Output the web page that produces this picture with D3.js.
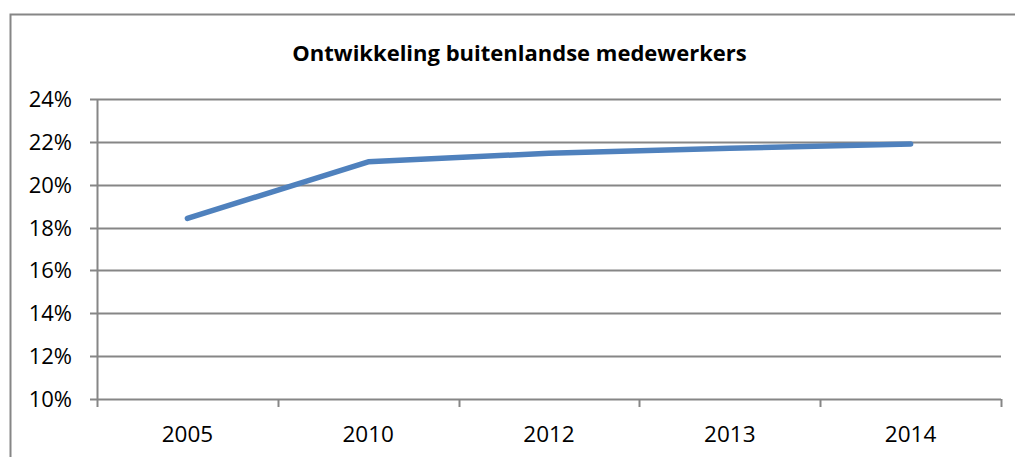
<!DOCTYPE html>
<html>
<head>
<meta charset="utf-8">
<script src="https://cdn.jsdelivr.net/npm/d3@7"></script>
<style>
  html, body { margin: 0; padding: 0; background: #fff; }
  svg { display: block; font-family: "Open Sans", sans-serif; }
</style>
</head>
<body>
<svg id="chart" width="1015" height="457"></svg>
<script>
// Chart data
const title = "Ontwikkeling buitenlandse medewerkers";
const years = ["2005", "2010", "2012", "2013", "2014"];
const share = [0.1843, 0.2107, 0.2147, 0.2170, 0.2190];
const yTicks = [0.10, 0.12, 0.14, 0.16, 0.18, 0.20, 0.22, 0.24];

const width = 1015, height = 457;
const margin = { top: 99, right: 14, bottom: 58, left: 97 };
const gray = "#868686";

const svg = d3.select("#chart");

// outer chart frame, runs off the right and bottom of the picture
svg.append("rect")
    .attr("x", 10.5).attr("y", 14.5)
    .attr("width", width).attr("height", height)
    .attr("fill", "none")
    .attr("stroke", gray)
    .attr("stroke-width", 2);

const x = d3.scaleBand()
    .domain(years)
    .range([margin.left, width - margin.right])
    .padding(0);

const y = d3.scaleLinear()
    .domain([0.10, 0.24])
    .range([height - margin.bottom, margin.top]);

// title
svg.append("text")
    .attr("x", (292 + 747) / 2)
    .attr("y", 61)
    .attr("text-anchor", "middle")
    .attr("font-weight", "bold")
    .attr("font-size", 22)
    .attr("fill", "#000")
    .text(title);

// horizontal gridlines
svg.append("g")
    .selectAll("line")
    .data(yTicks)
    .join("line")
    .attr("x1", margin.left - 7)
    .attr("x2", width - margin.right)
    .attr("y1", d => Math.round(y(d)) + 0.5)
    .attr("y2", d => Math.round(y(d)) + 0.5)
    .attr("stroke", gray)
    .attr("stroke-width", 2);

// y axis line
svg.append("line")
    .attr("x1", margin.left + 0.5).attr("x2", margin.left + 0.5)
    .attr("y1", y(0.24)).attr("y2", y(0.10))
    .attr("stroke", gray).attr("stroke-width", 2);

// y labels
svg.append("g")
    .selectAll("text")
    .data(yTicks)
    .join("text")
    .attr("x", 72)
    .attr("y", d => y(d) + 8)
    .attr("text-anchor", "end")
    .attr("font-size", 22)
    .attr("fill", "#000")
    .text(d => d3.format(".0%")(d));

// x ticks at band boundaries
const bounds = years.map(d => x(d)).concat([x(years[years.length - 1]) + x.bandwidth()]);
svg.append("g")
    .selectAll("line")
    .data(bounds)
    .join("line")
    .attr("x1", d => Math.round(d) + 0.5)
    .attr("x2", d => Math.round(d) + 0.5)
    .attr("y1", y(0.10))
    .attr("y2", y(0.10) + 8)
    .attr("stroke", gray)
    .attr("stroke-width", 2);

// x labels
svg.append("g")
    .selectAll("text")
    .data(years)
    .join("text")
    .attr("x", d => x(d) + x.bandwidth() / 2)
    .attr("y", 442)
    .attr("text-anchor", "middle")
    .attr("font-size", 22.5)
    .attr("fill", "#000")
    .text(d => d);

// the series line
const line = d3.line()
    .x((d, i) => x(years[i]) + x.bandwidth() / 2)
    .y(d => y(d));

svg.append("path")
    .datum(share)
    .attr("d", line)
    .attr("fill", "none")
    .attr("stroke", "#4F81BD")
    .attr("stroke-width", 5.5)
    .attr("stroke-linecap", "round")
    .attr("stroke-linejoin", "round");
</script>
</body>
</html>
